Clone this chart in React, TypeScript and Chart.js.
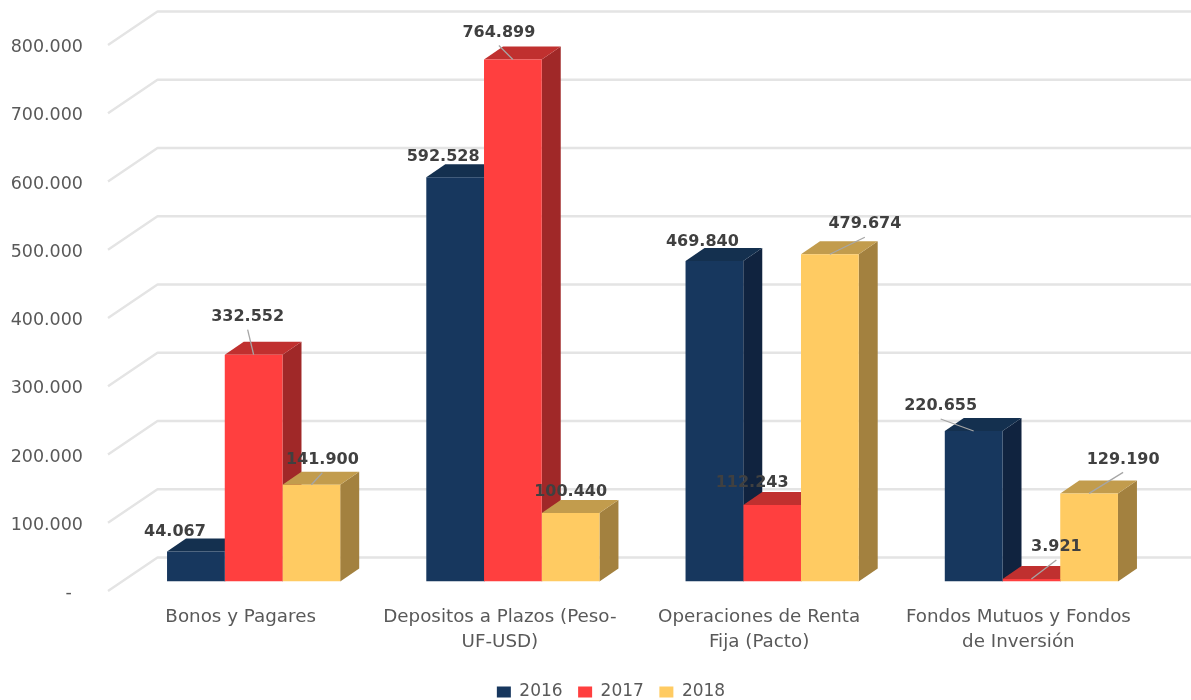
import React, { useEffect, useRef } from "react";
import { Chart, registerables } from "chart.js";

Chart.register(...registerables);

const categories = [
  ["Bonos y Pagares"],
  ["Depositos a Plazos (Peso-", "UF-USD)"],
  ["Operaciones de Renta", "Fija (Pacto)"],
  ["Fondos Mutuos y Fondos", "de Inversión"],
];
const values2016 = [44067, 592528, 469840, 220655];
const values2017 = [332552, 764899, 112243, 3921];
const values2018 = [141900, 100440, 479674, 129190];

const FONT = "'DejaVu Sans'";
const TEXT = "#595959";
const DEPTH_X = 19;
const DEPTH_Y = 13;

const front = ["#17375E", "#FF3F3F", "#FFCB62"];
const topFace = ["#14304F", "#C0302F", "#C29C4D"];
const sideFace = ["#10233F", "#A02828", "#A3813F"];

// Data label offsets from the top-centre of each bar: [dx, dy, leader line]
const labelOffsets: [number, number, boolean][][] = [
  [[-21, -20, false], [-12, -20, false], [-12, -19, false], [-33, -25, true]],
  [[-6, -38, true], [-14, -27, true], [-20, -22, false], [25, -32, true]],
  [[11, -25, true], [0, -21, false], [35, -30, true], [34, -34, true]],
];

const fmt = (v: number) =>
  v === 0 ? "-\u00A0\u00A0" : String(Math.round(v)).replace(/\B(?=(\d{3})+$)/g, ".");

const scene = {
  id: "scene3d",
  afterLayout(chart: any) {
    const lg = chart.legend;
    lg.left += 30.5;
    lg.right += 30.5;
    lg.top += 10.5;
    lg.bottom += 10.5;
  },
  beforeDatasetsDraw(chart: any) {
    const { ctx, scales } = chart;
    const y = scales.y;
    ctx.save();
    // Floor/back wall lines
    ctx.strokeStyle = "#E4E4E4";
    ctx.lineWidth = 2.4;
    ctx.lineJoin = "round";
    y.ticks.forEach((t: any) => {
      const p = y.getPixelForValue(t.value);
      ctx.beginPath();
      ctx.moveTo(108, p + 9.4);
      ctx.lineTo(157.5, p - 24.1);
      ctx.lineTo(chart.width, p - 24.1);
      ctx.stroke();
    });
    // Side and top faces, dataset by dataset
    chart.data.datasets.forEach((_: any, i: number) => {
      chart.getDatasetMeta(i).data.forEach((bar: any) => {
        const l = bar.x - bar.width / 2;
        const r = bar.x + bar.width / 2;
        const t = bar.y;
        const b = bar.base;
        ctx.fillStyle = sideFace[i];
        ctx.beginPath();
        ctx.moveTo(r, t);
        ctx.lineTo(r + DEPTH_X, t - DEPTH_Y);
        ctx.lineTo(r + DEPTH_X, b - DEPTH_Y);
        ctx.lineTo(r, b);
        ctx.closePath();
        ctx.fill();
        ctx.fillStyle = topFace[i];
        ctx.beginPath();
        ctx.moveTo(l, t);
        ctx.lineTo(l + DEPTH_X, t - DEPTH_Y);
        ctx.lineTo(r + DEPTH_X, t - DEPTH_Y);
        ctx.lineTo(r, t);
        ctx.closePath();
        ctx.fill();
      });
    });
    ctx.restore();
  },
  afterDatasetsDraw(chart: any) {
    const { ctx } = chart;
    ctx.save();
    chart.data.datasets.forEach((ds: any, i: number) => {
      chart.getDatasetMeta(i).data.forEach((bar: any, j: number) => {
        const [dx, dy, leader] = labelOffsets[i][j];
        const cx = bar.x + dx;
        const cy = bar.y + dy;
        if (leader) {
          ctx.strokeStyle = "#A6A6A6";
          ctx.lineWidth = 1.3;
          ctx.beginPath();
          ctx.moveTo(cx, cy + 13);
          ctx.lineTo(bar.x, bar.y);
          ctx.stroke();
        }
      });
    });
    ctx.font = `bold 16px ${FONT}`;
    ctx.fillStyle = "#404040";
    ctx.textAlign = "center";
    ctx.textBaseline = "middle";
    chart.data.datasets.forEach((ds: any, i: number) => {
      chart.getDatasetMeta(i).data.forEach((bar: any, j: number) => {
        const [dx, dy] = labelOffsets[i][j];
        ctx.fillText(fmt(ds.data[j]), bar.x + dx, bar.y + dy);
      });
    });
    ctx.restore();
  },
};

export default function App() {
  const ref = useRef<HTMLCanvasElement>(null);
  useEffect(() => {
    document.body.style.margin = "0";
    const chart = new Chart(ref.current!, {
      type: "bar",
      data: {
        labels: categories,
        datasets: [
          { label: "2016", data: values2016, backgroundColor: front[0] },
          { label: "2017", data: values2017, backgroundColor: front[1] },
          { label: "2018", data: values2018, backgroundColor: front[2] },
        ],
      },
      options: {
        animation: false,
        responsive: false,
        layout: { padding: { left: 0, right: 30, top: 35.6, bottom: 0 } },
        datasets: { bar: { barPercentage: 1, categoryPercentage: 173 / 259 } },
        plugins: {
          tooltip: { enabled: false },
          legend: {
            position: "bottom",
            labels: {
              boxWidth: 14,
              boxHeight: 11,
              padding: 15.5,
              color: TEXT,
              font: { family: FONT, size: 17 },
            },
          },
        },
        scales: {
          x: {
            grid: { display: false, drawTicks: false },
            border: { display: false },
            afterFit: (s: any) => {
              s.height = 75.9;
              s.paddingLeft = 0;
              s.paddingRight = 0;
            },
            ticks: {
              color: TEXT,
              font: { family: FONT, size: 18.3, lineHeight: 25 / 18.3 },
              padding: 23.4,
              labelOffset: -13,
              maxRotation: 0,
              minRotation: 0,
              autoSkip: false,
            },
          },
          y: {
            min: 0,
            max: 800000,
            grid: { display: false, drawTicks: false },
            border: { display: false },
            afterFit: (s: any) => {
              s.width = 124;
              s.paddingTop = 0;
              s.paddingBottom = 0;
            },
            ticks: {
              stepSize: 100000,
              color: TEXT,
              font: { family: FONT, size: 17.5 },
              padding: 41,
              labelOffset: 12,
              callback: (v: any) => fmt(Number(v)),
            },
          },
        },
      } as any,
      plugins: [scene],
    });
    return () => chart.destroy();
  }, []);
  return <canvas ref={ref} width={1191} height={700} style={{ display: "block" }} />;
}
